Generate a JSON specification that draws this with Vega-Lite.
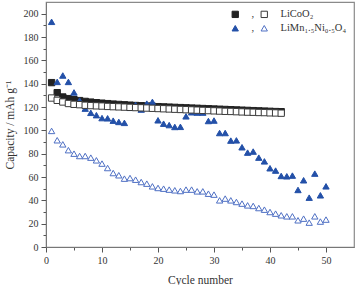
{
  "$schema": "https://vega.github.io/schema/vega-lite/v6.json",
  "width": 308,
  "height": 245,
  "padding": {"left": 4, "top": 2, "right": 2, "bottom": 0},
  "background": "white",
  "config": {
    "font": "Liberation Serif",
    "view": {"stroke": "#8a8a8a", "strokeWidth": 1.2},
    "axis": {
      "labelFont": "Liberation Serif",
      "titleFont": "Liberation Serif",
      "labelFontSize": 10,
      "titleFontSize": 11.5,
      "titleFontWeight": "normal",
      "labelColor": "#333",
      "titleColor": "#333",
      "domainColor": "#777",
      "tickColor": "#555",
      "grid": false
    },
    "legend": {
      "labelFont": "Liberation Serif",
      "labelFontSize": 10,
      "labelColor": "#333"
    }
  },
  "data": {
    "values": [
      {"cycle": 1, "capacity": 140.9, "series": "LiCoO2 charge"},
      {"cycle": 2, "capacity": 132.3, "series": "LiCoO2 charge"},
      {"cycle": 3, "capacity": 128.6, "series": "LiCoO2 charge"},
      {"cycle": 4, "capacity": 127.2, "series": "LiCoO2 charge"},
      {"cycle": 5, "capacity": 126.3, "series": "LiCoO2 charge"},
      {"cycle": 6, "capacity": 125.5, "series": "LiCoO2 charge"},
      {"cycle": 7, "capacity": 124.8, "series": "LiCoO2 charge"},
      {"cycle": 8, "capacity": 124.2, "series": "LiCoO2 charge"},
      {"cycle": 9, "capacity": 123.7, "series": "LiCoO2 charge"},
      {"cycle": 10, "capacity": 123.3, "series": "LiCoO2 charge"},
      {"cycle": 11, "capacity": 122.9, "series": "LiCoO2 charge"},
      {"cycle": 12, "capacity": 122.5, "series": "LiCoO2 charge"},
      {"cycle": 13, "capacity": 122.2, "series": "LiCoO2 charge"},
      {"cycle": 14, "capacity": 121.9, "series": "LiCoO2 charge"},
      {"cycle": 15, "capacity": 121.6, "series": "LiCoO2 charge"},
      {"cycle": 16, "capacity": 121.3, "series": "LiCoO2 charge"},
      {"cycle": 17, "capacity": 121.1, "series": "LiCoO2 charge"},
      {"cycle": 18, "capacity": 120.8, "series": "LiCoO2 charge"},
      {"cycle": 19, "capacity": 120.6, "series": "LiCoO2 charge"},
      {"cycle": 20, "capacity": 120.3, "series": "LiCoO2 charge"},
      {"cycle": 21, "capacity": 120.1, "series": "LiCoO2 charge"},
      {"cycle": 22, "capacity": 119.9, "series": "LiCoO2 charge"},
      {"cycle": 23, "capacity": 119.7, "series": "LiCoO2 charge"},
      {"cycle": 24, "capacity": 119.5, "series": "LiCoO2 charge"},
      {"cycle": 25, "capacity": 119.3, "series": "LiCoO2 charge"},
      {"cycle": 26, "capacity": 119.1, "series": "LiCoO2 charge"},
      {"cycle": 27, "capacity": 118.9, "series": "LiCoO2 charge"},
      {"cycle": 28, "capacity": 118.7, "series": "LiCoO2 charge"},
      {"cycle": 29, "capacity": 118.5, "series": "LiCoO2 charge"},
      {"cycle": 30, "capacity": 118.3, "series": "LiCoO2 charge"},
      {"cycle": 31, "capacity": 118.1, "series": "LiCoO2 charge"},
      {"cycle": 32, "capacity": 117.9, "series": "LiCoO2 charge"},
      {"cycle": 33, "capacity": 117.7, "series": "LiCoO2 charge"},
      {"cycle": 34, "capacity": 117.5, "series": "LiCoO2 charge"},
      {"cycle": 35, "capacity": 117.3, "series": "LiCoO2 charge"},
      {"cycle": 36, "capacity": 117.1, "series": "LiCoO2 charge"},
      {"cycle": 37, "capacity": 116.9, "series": "LiCoO2 charge"},
      {"cycle": 38, "capacity": 116.7, "series": "LiCoO2 charge"},
      {"cycle": 39, "capacity": 116.5, "series": "LiCoO2 charge"},
      {"cycle": 40, "capacity": 116.3, "series": "LiCoO2 charge"},
      {"cycle": 41, "capacity": 116.1, "series": "LiCoO2 charge"},
      {"cycle": 42, "capacity": 116.0, "series": "LiCoO2 charge"},

      {"cycle": 1, "capacity": 193.0, "series": "LiMn1.5Ni0.5O4 charge"},
      {"cycle": 2, "capacity": 141.5, "series": "LiMn1.5Ni0.5O4 charge"},
      {"cycle": 3, "capacity": 147.0, "series": "LiMn1.5Ni0.5O4 charge"},
      {"cycle": 4, "capacity": 141.5, "series": "LiMn1.5Ni0.5O4 charge"},
      {"cycle": 5, "capacity": 132.5, "series": "LiMn1.5Ni0.5O4 charge"},
      {"cycle": 6, "capacity": 125.5, "series": "LiMn1.5Ni0.5O4 charge"},
      {"cycle": 7, "capacity": 118.6, "series": "LiMn1.5Ni0.5O4 charge"},
      {"cycle": 8, "capacity": 115.0, "series": "LiMn1.5Ni0.5O4 charge"},
      {"cycle": 9, "capacity": 113.0, "series": "LiMn1.5Ni0.5O4 charge"},
      {"cycle": 10, "capacity": 110.5, "series": "LiMn1.5Ni0.5O4 charge"},
      {"cycle": 11, "capacity": 110.3, "series": "LiMn1.5Ni0.5O4 charge"},
      {"cycle": 12, "capacity": 108.3, "series": "LiMn1.5Ni0.5O4 charge"},
      {"cycle": 13, "capacity": 107.2, "series": "LiMn1.5Ni0.5O4 charge"},
      {"cycle": 14, "capacity": 106.4, "series": "LiMn1.5Ni0.5O4 charge"},
      {"cycle": 15, "capacity": 119.3, "series": "LiMn1.5Ni0.5O4 charge"},
      {"cycle": 16, "capacity": 121.7, "series": "LiMn1.5Ni0.5O4 charge"},
      {"cycle": 17, "capacity": 117.8, "series": "LiMn1.5Ni0.5O4 charge"},
      {"cycle": 18, "capacity": 122.9, "series": "LiMn1.5Ni0.5O4 charge"},
      {"cycle": 19, "capacity": 124.4, "series": "LiMn1.5Ni0.5O4 charge"},
      {"cycle": 20, "capacity": 108.6, "series": "LiMn1.5Ni0.5O4 charge"},
      {"cycle": 21, "capacity": 105.7, "series": "LiMn1.5Ni0.5O4 charge"},
      {"cycle": 22, "capacity": 104.5, "series": "LiMn1.5Ni0.5O4 charge"},
      {"cycle": 23, "capacity": 102.9, "series": "LiMn1.5Ni0.5O4 charge"},
      {"cycle": 24, "capacity": 103.0, "series": "LiMn1.5Ni0.5O4 charge"},
      {"cycle": 25, "capacity": 112.0, "series": "LiMn1.5Ni0.5O4 charge"},
      {"cycle": 26, "capacity": 115.5, "series": "LiMn1.5Ni0.5O4 charge"},
      {"cycle": 27, "capacity": 115.2, "series": "LiMn1.5Ni0.5O4 charge"},
      {"cycle": 28, "capacity": 115.2, "series": "LiMn1.5Ni0.5O4 charge"},
      {"cycle": 29, "capacity": 108.0, "series": "LiMn1.5Ni0.5O4 charge"},
      {"cycle": 30, "capacity": 108.4, "series": "LiMn1.5Ni0.5O4 charge"},
      {"cycle": 31, "capacity": 97.7, "series": "LiMn1.5Ni0.5O4 charge"},
      {"cycle": 32, "capacity": 97.7, "series": "LiMn1.5Ni0.5O4 charge"},
      {"cycle": 33, "capacity": 91.2, "series": "LiMn1.5Ni0.5O4 charge"},
      {"cycle": 34, "capacity": 91.4, "series": "LiMn1.5Ni0.5O4 charge"},
      {"cycle": 35, "capacity": 85.5, "series": "LiMn1.5Ni0.5O4 charge"},
      {"cycle": 36, "capacity": 80.9, "series": "LiMn1.5Ni0.5O4 charge"},
      {"cycle": 37, "capacity": 81.8, "series": "LiMn1.5Ni0.5O4 charge"},
      {"cycle": 38, "capacity": 76.6, "series": "LiMn1.5Ni0.5O4 charge"},
      {"cycle": 39, "capacity": 73.4, "series": "LiMn1.5Ni0.5O4 charge"},
      {"cycle": 40, "capacity": 67.5, "series": "LiMn1.5Ni0.5O4 charge"},
      {"cycle": 41, "capacity": 65.5, "series": "LiMn1.5Ni0.5O4 charge"},
      {"cycle": 42, "capacity": 60.9, "series": "LiMn1.5Ni0.5O4 charge"},
      {"cycle": 43, "capacity": 60.6, "series": "LiMn1.5Ni0.5O4 charge"},
      {"cycle": 44, "capacity": 61.2, "series": "LiMn1.5Ni0.5O4 charge"},
      {"cycle": 45, "capacity": 48.9, "series": "LiMn1.5Ni0.5O4 charge"},
      {"cycle": 46, "capacity": 57.2, "series": "LiMn1.5Ni0.5O4 charge"},
      {"cycle": 47, "capacity": 42.3, "series": "LiMn1.5Ni0.5O4 charge"},
      {"cycle": 48, "capacity": 62.9, "series": "LiMn1.5Ni0.5O4 charge"},
      {"cycle": 49, "capacity": 44.3, "series": "LiMn1.5Ni0.5O4 charge"},
      {"cycle": 50, "capacity": 52.0, "series": "LiMn1.5Ni0.5O4 charge"},

      {"cycle": 1, "capacity": 127.7, "series": "LiCoO2 discharge"},
      {"cycle": 2, "capacity": 125.7, "series": "LiCoO2 discharge"},
      {"cycle": 3, "capacity": 124.3, "series": "LiCoO2 discharge"},
      {"cycle": 4, "capacity": 123.0, "series": "LiCoO2 discharge"},
      {"cycle": 5, "capacity": 122.3, "series": "LiCoO2 discharge"},
      {"cycle": 6, "capacity": 122.0, "series": "LiCoO2 discharge"},
      {"cycle": 7, "capacity": 121.5, "series": "LiCoO2 discharge"},
      {"cycle": 8, "capacity": 121.2, "series": "LiCoO2 discharge"},
      {"cycle": 9, "capacity": 121.0, "series": "LiCoO2 discharge"},
      {"cycle": 10, "capacity": 120.8, "series": "LiCoO2 discharge"},
      {"cycle": 11, "capacity": 120.5, "series": "LiCoO2 discharge"},
      {"cycle": 12, "capacity": 120.3, "series": "LiCoO2 discharge"},
      {"cycle": 13, "capacity": 120.1, "series": "LiCoO2 discharge"},
      {"cycle": 14, "capacity": 119.9, "series": "LiCoO2 discharge"},
      {"cycle": 15, "capacity": 119.7, "series": "LiCoO2 discharge"},
      {"cycle": 16, "capacity": 119.5, "series": "LiCoO2 discharge"},
      {"cycle": 17, "capacity": 119.3, "series": "LiCoO2 discharge"},
      {"cycle": 18, "capacity": 119.1, "series": "LiCoO2 discharge"},
      {"cycle": 19, "capacity": 118.9, "series": "LiCoO2 discharge"},
      {"cycle": 20, "capacity": 118.7, "series": "LiCoO2 discharge"},
      {"cycle": 21, "capacity": 118.5, "series": "LiCoO2 discharge"},
      {"cycle": 22, "capacity": 118.3, "series": "LiCoO2 discharge"},
      {"cycle": 23, "capacity": 118.1, "series": "LiCoO2 discharge"},
      {"cycle": 24, "capacity": 117.9, "series": "LiCoO2 discharge"},
      {"cycle": 25, "capacity": 117.7, "series": "LiCoO2 discharge"},
      {"cycle": 26, "capacity": 117.5, "series": "LiCoO2 discharge"},
      {"cycle": 27, "capacity": 117.3, "series": "LiCoO2 discharge"},
      {"cycle": 28, "capacity": 117.1, "series": "LiCoO2 discharge"},
      {"cycle": 29, "capacity": 116.9, "series": "LiCoO2 discharge"},
      {"cycle": 30, "capacity": 116.7, "series": "LiCoO2 discharge"},
      {"cycle": 31, "capacity": 116.5, "series": "LiCoO2 discharge"},
      {"cycle": 32, "capacity": 116.3, "series": "LiCoO2 discharge"},
      {"cycle": 33, "capacity": 116.2, "series": "LiCoO2 discharge"},
      {"cycle": 34, "capacity": 116.0, "series": "LiCoO2 discharge"},
      {"cycle": 35, "capacity": 115.8, "series": "LiCoO2 discharge"},
      {"cycle": 36, "capacity": 115.6, "series": "LiCoO2 discharge"},
      {"cycle": 37, "capacity": 115.5, "series": "LiCoO2 discharge"},
      {"cycle": 38, "capacity": 115.3, "series": "LiCoO2 discharge"},
      {"cycle": 39, "capacity": 115.2, "series": "LiCoO2 discharge"},
      {"cycle": 40, "capacity": 115.0, "series": "LiCoO2 discharge"},
      {"cycle": 41, "capacity": 114.9, "series": "LiCoO2 discharge"},
      {"cycle": 42, "capacity": 114.7, "series": "LiCoO2 discharge"},

      {"cycle": 1, "capacity": 99.5, "series": "LiMn1.5Ni0.5O4 discharge"},
      {"cycle": 2, "capacity": 91.5, "series": "LiMn1.5Ni0.5O4 discharge"},
      {"cycle": 3, "capacity": 88.0, "series": "LiMn1.5Ni0.5O4 discharge"},
      {"cycle": 4, "capacity": 83.0, "series": "LiMn1.5Ni0.5O4 discharge"},
      {"cycle": 5, "capacity": 80.0, "series": "LiMn1.5Ni0.5O4 discharge"},
      {"cycle": 6, "capacity": 78.0, "series": "LiMn1.5Ni0.5O4 discharge"},
      {"cycle": 7, "capacity": 78.0, "series": "LiMn1.5Ni0.5O4 discharge"},
      {"cycle": 8, "capacity": 76.6, "series": "LiMn1.5Ni0.5O4 discharge"},
      {"cycle": 9, "capacity": 74.3, "series": "LiMn1.5Ni0.5O4 discharge"},
      {"cycle": 10, "capacity": 71.5, "series": "LiMn1.5Ni0.5O4 discharge"},
      {"cycle": 11, "capacity": 67.7, "series": "LiMn1.5Ni0.5O4 discharge"},
      {"cycle": 12, "capacity": 63.4, "series": "LiMn1.5Ni0.5O4 discharge"},
      {"cycle": 13, "capacity": 61.5, "series": "LiMn1.5Ni0.5O4 discharge"},
      {"cycle": 14, "capacity": 58.6, "series": "LiMn1.5Ni0.5O4 discharge"},
      {"cycle": 15, "capacity": 59.1, "series": "LiMn1.5Ni0.5O4 discharge"},
      {"cycle": 16, "capacity": 57.7, "series": "LiMn1.5Ni0.5O4 discharge"},
      {"cycle": 17, "capacity": 55.7, "series": "LiMn1.5Ni0.5O4 discharge"},
      {"cycle": 18, "capacity": 54.3, "series": "LiMn1.5Ni0.5O4 discharge"},
      {"cycle": 19, "capacity": 52.0, "series": "LiMn1.5Ni0.5O4 discharge"},
      {"cycle": 20, "capacity": 50.6, "series": "LiMn1.5Ni0.5O4 discharge"},
      {"cycle": 21, "capacity": 50.0, "series": "LiMn1.5Ni0.5O4 discharge"},
      {"cycle": 22, "capacity": 49.2, "series": "LiMn1.5Ni0.5O4 discharge"},
      {"cycle": 23, "capacity": 48.6, "series": "LiMn1.5Ni0.5O4 discharge"},
      {"cycle": 24, "capacity": 48.0, "series": "LiMn1.5Ni0.5O4 discharge"},
      {"cycle": 25, "capacity": 49.2, "series": "LiMn1.5Ni0.5O4 discharge"},
      {"cycle": 26, "capacity": 49.2, "series": "LiMn1.5Ni0.5O4 discharge"},
      {"cycle": 27, "capacity": 47.7, "series": "LiMn1.5Ni0.5O4 discharge"},
      {"cycle": 28, "capacity": 47.7, "series": "LiMn1.5Ni0.5O4 discharge"},
      {"cycle": 29, "capacity": 45.7, "series": "LiMn1.5Ni0.5O4 discharge"},
      {"cycle": 30, "capacity": 44.9, "series": "LiMn1.5Ni0.5O4 discharge"},
      {"cycle": 31, "capacity": 40.0, "series": "LiMn1.5Ni0.5O4 discharge"},
      {"cycle": 32, "capacity": 41.5, "series": "LiMn1.5Ni0.5O4 discharge"},
      {"cycle": 33, "capacity": 40.0, "series": "LiMn1.5Ni0.5O4 discharge"},
      {"cycle": 34, "capacity": 38.6, "series": "LiMn1.5Ni0.5O4 discharge"},
      {"cycle": 35, "capacity": 37.2, "series": "LiMn1.5Ni0.5O4 discharge"},
      {"cycle": 36, "capacity": 35.7, "series": "LiMn1.5Ni0.5O4 discharge"},
      {"cycle": 37, "capacity": 35.2, "series": "LiMn1.5Ni0.5O4 discharge"},
      {"cycle": 38, "capacity": 33.4, "series": "LiMn1.5Ni0.5O4 discharge"},
      {"cycle": 39, "capacity": 32.0, "series": "LiMn1.5Ni0.5O4 discharge"},
      {"cycle": 40, "capacity": 30.0, "series": "LiMn1.5Ni0.5O4 discharge"},
      {"cycle": 41, "capacity": 28.6, "series": "LiMn1.5Ni0.5O4 discharge"},
      {"cycle": 42, "capacity": 27.2, "series": "LiMn1.5Ni0.5O4 discharge"},
      {"cycle": 43, "capacity": 26.3, "series": "LiMn1.5Ni0.5O4 discharge"},
      {"cycle": 44, "capacity": 26.3, "series": "LiMn1.5Ni0.5O4 discharge"},
      {"cycle": 45, "capacity": 22.9, "series": "LiMn1.5Ni0.5O4 discharge"},
      {"cycle": 46, "capacity": 24.3, "series": "LiMn1.5Ni0.5O4 discharge"},
      {"cycle": 47, "capacity": 20.9, "series": "LiMn1.5Ni0.5O4 discharge"},
      {"cycle": 48, "capacity": 26.3, "series": "LiMn1.5Ni0.5O4 discharge"},
      {"cycle": 49, "capacity": 21.8, "series": "LiMn1.5Ni0.5O4 discharge"},
      {"cycle": 50, "capacity": 23.5, "series": "LiMn1.5Ni0.5O4 discharge"}
    ]
  },
  "mark": {"type": "point", "opacity": 1, "strokeWidth": 1, "size": 40},
  "encoding": {
    "x": {
      "field": "cycle",
      "type": "quantitative",
      "title": "Cycle number",
      "scale": {"domain": [0, 55], "nice": false},
      "axis": {
        "values": [0, 5, 10, 15, 20, 25, 30, 35, 40, 45, 50],
        "labelExpr": "datum.value % 10 === 0 ? datum.label : ''",
        "tickSize": {"condition": {"test": "datum.value % 10 === 0", "value": 5}, "value": 3},
        "labelPadding": 3,
        "titlePadding": 9,
        "labelFlush": false
      }
    },
    "y": {
      "field": "capacity",
      "type": "quantitative",
      "title": "Capacity / mAh g⁻¹",
      "scale": {"domain": [0, 210], "nice": false},
      "axis": {
        "values": [0, 10, 20, 30, 40, 50, 60, 70, 80, 90, 100, 110, 120, 130, 140, 150, 160, 170, 180, 190, 200],
        "labelExpr": "datum.value % 20 === 0 ? datum.label : ''",
        "tickSize": {"condition": {"test": "datum.value % 20 === 0", "value": 5}, "value": 3},
        "labelPadding": 3,
        "titlePadding": 8,
        "labelFlush": false
      }
    },
    "shape": {
      "field": "series",
      "type": "nominal",
      "scale": {
        "domain": ["LiCoO2 charge", "LiMn1.5Ni0.5O4 charge", "LiCoO2 discharge", "LiMn1.5Ni0.5O4 discharge"],
        "range": ["square", "triangle-up", "square", "triangle-up"]
      },
      "legend": {
        "title": null,
        "orient": "top-right",
        "offset": 7,
        "columns": 2,
        "columnPadding": 4,
        "rowPadding": 3,
        "padding": 0,
        "symbolSize": 40,
        "symbolStrokeWidth": 1,
        "labelOffset": 11,
        "labelFontSize": 10.5,
        "labelExpr": "datum.value == 'LiCoO2 discharge' ? 'LiCoO₂' : datum.value == 'LiMn1.5Ni0.5O4 discharge' ? 'LiMn₁.₅Ni₀.₅O₄' : ','"
      }
    },
    "fill": {
      "field": "series",
      "type": "nominal",
      "scale": {
        "domain": ["LiCoO2 charge", "LiMn1.5Ni0.5O4 charge", "LiCoO2 discharge", "LiMn1.5Ni0.5O4 discharge"],
        "range": ["#222222", "#2350a8", "#ffffff", "#ffffff"]
      }
    },
    "stroke": {
      "field": "series",
      "type": "nominal",
      "scale": {
        "domain": ["LiCoO2 charge", "LiMn1.5Ni0.5O4 charge", "LiCoO2 discharge", "LiMn1.5Ni0.5O4 discharge"],
        "range": ["#222222", "#2350a8", "#3a3a3a", "#4f70c4"]
      }
    }
  }
}
